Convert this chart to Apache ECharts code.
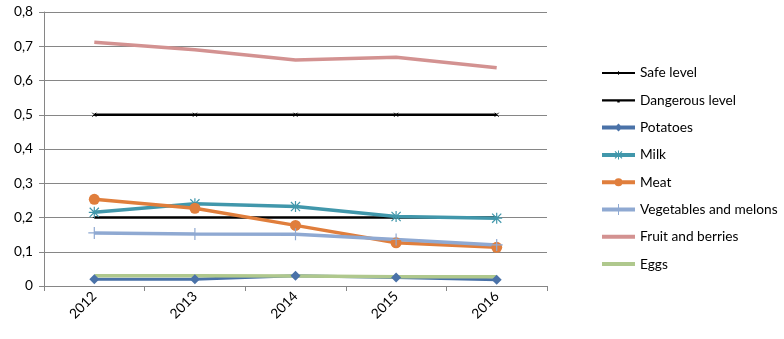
<!DOCTYPE html>
<html><head><meta charset="utf-8">
<script src="https://cdn.jsdelivr.net/npm/echarts@6/dist/echarts.min.js"></script>
<style>html,body{margin:0;padding:0;background:#fff}#c{width:784px;height:339px}</style>
</head><body><div id="c"></div>
<script>
const years = ['2012','2013','2014','2015','2016'];
const yTicks = [0,0.1,0.2,0.3,0.4,0.5,0.6,0.7,0.8];
const safeLevel = [0.2,0.2,0.2,0.2,0.2];
const dangerousLevel = [0.5,0.5,0.5,0.5,0.5];
const potatoes = [0.02,0.02,0.03,0.025,0.018];
const milk = [0.215,0.24,0.232,0.203,0.198];
const meat = [0.253,0.227,0.177,0.126,0.113];
const vegetables = [0.155,0.152,0.151,0.136,0.12];
const fruit = [0.712,0.69,0.66,0.668,0.637];
const eggs = [0.03,0.03,0.029,0.027,0.027];

const FONT = 'Lato, "Open Sans", sans-serif';
const FS = 13.7;
const chart = echarts.init(document.getElementById('c'));
const asterisk = 'path://M0,0 L10,10 M10,0 L0,10 M5,-1 L5,11 M-1,5 L11,5';
const plus = 'path://M5,0 L5,10 M0,5 L10,5';
const cross = 'path://M0,0 L10,10 M10,0 L0,10';
// legend icons drawn in a 33x14 box (corner specks keep the box size), all sub-shapes clockwise
const specks = 'M0,0 L0.01,0 L0,0.01 Z M33,14 L32.99,14 L33,13.99 Z ';
const barP = h => 'M0,' + (7 - h/2) + ' L33,' + (7 - h/2) + ' L33,' + (7 + h/2) + ' L0,' + (7 + h/2) + ' Z ';
const icons = {
  safe: 'path://' + specks + barP(2.2) + 'M16,5.3 L17,5.3 L17,8.7 L16,8.7 Z',
  danger: 'path://' + specks + barP(2.2) + 'M15.3,6.6 L17.7,6.6 L17.7,9.2 L15.3,9.2 Z',
  potatoes: 'path://' + specks + barP(4) + 'M16.5,3 L20.5,7 L16.5,11 L12.5,7 Z',
  milk: 'path://' + specks + barP(4) + 'M16,2.5 L17,2.5 L17,11.5 L16,11.5 Z M13.4,3.1 L20.4,10.1 L19.6,10.9 L12.6,3.9 Z M19.6,3.1 L20.4,3.9 L13.4,10.9 L12.6,10.1 Z',
  meat: 'path://' + specks + barP(4) + 'M12.5,7 A4,4 0 1,1 20.5,7 A4,4 0 1,1 12.5,7 Z',
  veg: 'path://' + specks + barP(4) + 'M16,1.5 L17,1.5 L17,12.5 L16,12.5 Z',
  plain: 'path://' + specks + barP(4)
};
function s(name, data, color, width, symbol, size, extra) {
  return Object.assign({
    name, type: 'line', data,
    symbol: symbol || 'none', symbolSize: size || 0, showSymbol: !!symbol,
    lineStyle: {color, width},
    itemStyle: {color},
    emphasis: {disabled: true},
    animation: false
  }, extra || {});
}
chart.setOption({
  animation: false,
  grid: {left: 44, right: 237, top: 12, bottom: 53},
  legend: {
    orient: 'vertical', left: 602, top: 66, padding: 0,
    itemWidth: 33, itemHeight: 14, itemGap: 13.3,
    itemStyle: {borderWidth: 0},
    textStyle: {fontFamily: FONT, fontSize: FS, color: '#000', lineHeight: 14},
    data: [
      {name: 'Safe level', icon: icons.safe},
      {name: 'Dangerous level', icon: icons.danger},
      {name: 'Potatoes', icon: icons.potatoes},
      {name: 'Milk', icon: icons.milk},
      {name: 'Meat', icon: icons.meat},
      {name: 'Vegetables and melons', icon: icons.veg},
      {name: 'Fruit and berries', icon: icons.plain},
      {name: 'Eggs', icon: icons.plain}
    ]
  },
  xAxis: {
    type: 'category', data: years, boundaryGap: true,
    axisLine: {lineStyle: {color: '#868686', width: 1}},
    axisTick: {show: true, length: 5, lineStyle: {color: '#868686'}},
    axisLabel: {rotate: 45, fontFamily: FONT, fontSize: FS, color: '#000', margin: 8}
  },
  yAxis: {
    type: 'value', min: 0, max: 0.8, interval: 0.1,
    axisLine: {show: true, lineStyle: {color: '#868686'}},
    axisTick: {show: true, length: 5, lineStyle: {color: '#868686'}},
    splitLine: {lineStyle: {color: '#868686', width: 1}},
    axisLabel: {fontFamily: FONT, fontSize: FS, color: '#000', margin: 11,
      formatter: v => { const t = yTicks.find(x => Math.abs(x - v) < 1e-6); return (t === 0 ? '0' : t.toFixed(1).replace('.', ',')); }}
  },
  series: [
    s('Safe level', safeLevel, '#000', 2.5, 'rect', [3,1]),
    s('Dangerous level', dangerousLevel, '#000', 2.5, cross, 4, {itemStyle: {color: '#000', borderColor: '#000', borderWidth: 1}}),
    s('Potatoes', potatoes, '#4a72a8', 3, 'diamond', 10),
    s('Milk', milk, '#4197ab', 3.5, asterisk, 11, {itemStyle: {color: '#4197ab', borderColor: '#4197ab', borderWidth: 1.2}}),
    s('Meat', meat, '#e07e3c', 3.5, 'circle', 11),
    s('Vegetables and melons', vegetables, '#8fa9d2', 3.5, plus, 12, {itemStyle: {color: '#8fa9d2', borderColor: '#8fa9d2', borderWidth: 1.2}}),
    s('Fruit and berries', fruit, '#d39291', 3.5),
    s('Eggs', eggs, '#afc88d', 3.5)
  ]
});
</script></body></html>
